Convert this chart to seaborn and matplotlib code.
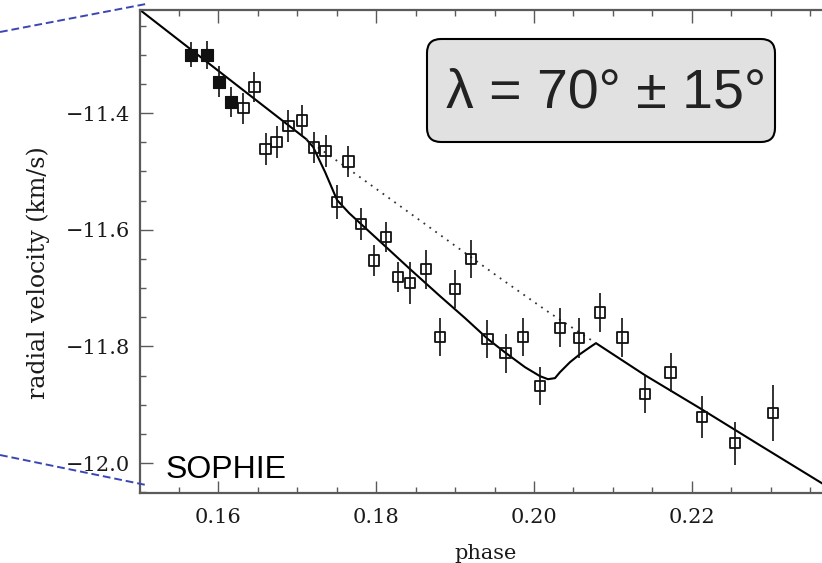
import matplotlib
matplotlib.use("Agg")
import matplotlib.pyplot as plt
from matplotlib.ticker import MultipleLocator, FuncFormatter
from matplotlib.patches import FancyBboxPatch
from matplotlib.lines import Line2D
from matplotlib.transforms import IdentityTransform
import seaborn as sns

# SOPHIE radial velocities before the transit (filled squares)
phase_before = [0.1565, 0.1586, 0.1601, 0.1616]
rv_before = [-11.300, -11.300, -11.346, -11.381]
err_before = [0.021, 0.024, 0.026, 0.026]

# SOPHIE radial velocities during the transit night (open squares)
phase_night = [0.1632, 0.1646, 0.1660, 0.1674, 0.1689, 0.1706, 0.1721, 0.1736,
               0.1751, 0.1765, 0.1781, 0.1797, 0.1813, 0.1828, 0.1843, 0.1863,
               0.1881, 0.1900, 0.1920, 0.1941, 0.1964, 0.1986, 0.2008, 0.2033,
               0.2057, 0.2084, 0.2112, 0.2141, 0.2173, 0.2213, 0.2255, 0.2303]
rv_night = [-11.392, -11.355, -11.462, -11.450, -11.422, -11.413, -11.459, -11.465,
            -11.552, -11.483, -11.590, -11.653, -11.613, -11.681, -11.692, -11.668,
            -11.784, -11.702, -11.650, -11.787, -11.812, -11.784, -11.868, -11.768,
            -11.786, -11.742, -11.785, -11.882, -11.845, -11.921, -11.966, -11.914]
err_night = [0.026, 0.026, 0.027, 0.027, 0.027, 0.026, 0.027, 0.027,
             0.029, 0.027, 0.027, 0.027, 0.026, 0.026, 0.036, 0.033,
             0.033, 0.033, 0.033, 0.033, 0.034, 0.033, 0.033, 0.033,
             0.034, 0.033, 0.034, 0.033, 0.033, 0.036, 0.037, 0.048]

# fitted orbit including the Rossiter-McLaughlin anomaly
model_phase = [0.1501, 0.16886, 0.17114, 0.17203, 0.17354, 0.17506, 0.17658, 0.17810,
               0.18127, 0.18430, 0.18810, 0.19127, 0.19418, 0.19646, 0.19886, 0.20076,
               0.20177, 0.20266, 0.20329, 0.20456, 0.20582, 0.20709, 0.20785, 0.21405,
               0.22101, 0.22861, 0.23646, 0.23810]
model_rv = [-11.2233, -11.4206, -11.4446, -11.4583, -11.5012, -11.5492, -11.5715, -11.5904,
            -11.6298, -11.6676, -11.7139, -11.7516, -11.7877, -11.8117, -11.8357, -11.8511,
            -11.8563, -11.8545, -11.8443, -11.8271, -11.8134, -11.8014, -11.7945, -11.8494,
            -11.9060, -11.9695, -12.0346, -12.0484]

# Keplerian orbit alone across the transit window
kep_phase = [0.17114, 0.17671, 0.18304, 0.18937, 0.19570, 0.20203, 0.20785]
kep_rv = [-11.4446, -11.4978, -11.5595, -11.6213, -11.6830, -11.7431, -11.7945]

x_ticks = [0.16, 0.18, 0.20, 0.22]
y_ticks = [-12.0, -11.8, -11.6, -11.4]

sns.set_theme(style="ticks")
plt.rcParams["font.family"] = ["DejaVu Serif"]

ink = "#111111"
frame = "#5a5a5a"

fig = plt.figure(figsize=(8.22, 5.63), dpi=100)
ax = fig.add_axes([0.17032, 0.12433, 0.8443, 0.85791])

# model curves
sns.lineplot(x=model_phase, y=model_rv, ax=ax, sort=False, estimator=None,
             color="black", linewidth=1.5, zorder=2)
sns.lineplot(x=kep_phase, y=kep_rv, ax=ax, sort=False, estimator=None,
             color="#333333", linewidth=1.3, linestyle=(0, (1, 3)), zorder=2)

# error bars
ax.errorbar(phase_before, rv_before, yerr=err_before, fmt="none",
            ecolor=ink, elinewidth=1.2, capsize=0, zorder=3)
ax.errorbar(phase_night, rv_night, yerr=err_night, fmt="none",
            ecolor=ink, elinewidth=1.2, capsize=0, zorder=3)

# measurements
sns.scatterplot(x=phase_before, y=rv_before, ax=ax, marker="s", s=66,
                color=ink, edgecolor=ink, linewidth=0.8, zorder=4)
sns.scatterplot(x=phase_night, y=rv_night, ax=ax, marker="s", s=54,
                facecolor="none", edgecolor=ink, linewidth=1.3, zorder=4)

ax.set_xlim(0.1501, 0.2380)
ax.set_ylim(-12.0514, -11.2234)

ax.set_xticks(x_ticks)
ax.set_yticks(y_ticks)
ax.xaxis.set_major_formatter(FuncFormatter(lambda v, _: f"{v:.2f}"))
ax.yaxis.set_major_formatter(FuncFormatter(lambda v, _: f"{v:.1f}".replace("-", "\u2212")))
ax.xaxis.set_minor_locator(MultipleLocator(0.005))
ax.yaxis.set_minor_locator(MultipleLocator(0.05))

ax.tick_params(which="both", direction="in", top=True, right=True,
               color=frame, width=1.0, labelsize=15, labelcolor="#1a1a1a")
ax.tick_params(which="major", length=9)
ax.tick_params(which="minor", length=4.5)
ax.tick_params(axis="x", which="major", pad=11)
ax.tick_params(axis="y", which="major", pad=7)

for side in ax.spines.values():
    side.set_color(frame)
    side.set_linewidth(1.6)

ax.set_xlabel("phase", fontsize=15, color="#1a1a1a")
ax.set_ylabel("radial velocity (km/s)", fontsize=17, color="#1a1a1a")
ax.xaxis.set_label_coords(0.4986, -0.1056)
ax.yaxis.set_label_coords(-0.1297, 0.4555)

ax.text(0.037, 0.0311, "SOPHIE", transform=ax.transAxes, ha="left", va="baseline",
        fontsize=23, family="Liberation Sans", color="black", zorder=5)

# spin-orbit angle label in a rounded box (pixel positions on the canvas)
px = IdentityTransform()
H = 563
box = FancyBboxPatch((427, H - 142), 348, 103,
                     boxstyle="round,pad=0,rounding_size=14",
                     transform=px, facecolor="#e1e1e1", edgecolor="black",
                     linewidth=1.5, zorder=6)
fig.add_artist(box)
fig.text(606, H - 107, "\u03bb = 70\u00b0 \u00b1 15\u00b0", transform=px,
         ha="center", va="baseline", fontsize=40, family="Liberation Sans",
         color="#222222", zorder=7)

# dashed guides toward the panel corners
guide = dict(color="#3a46b4", linewidth=1.4, linestyle=(0, (4, 2)), transform=px, zorder=8)
fig.add_artist(Line2D([0, 146], [H - 32, H - 4], **guide))
fig.add_artist(Line2D([0, 146], [H - 455, H - 485], **guide))

fig.savefig("out.png", dpi=100, facecolor="white")
